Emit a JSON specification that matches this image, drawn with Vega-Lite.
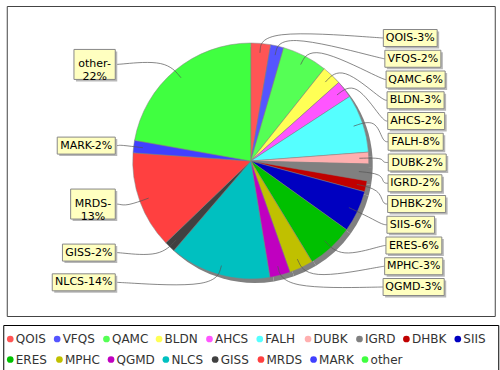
{
  "$schema": "https://vega.github.io/schema/vega-lite/v6.json",
  "background": "white",
  "padding": {"left": 2, "top": 5, "right": 3, "bottom": 3},
  "datasets": {
    "slices": [
      {"cat": "QOIS", "pct": 2.7, "label": "QOIS-3%"},
      {"cat": "VFQS", "pct": 1.8, "label": "VFQS-2%"},
      {"cat": "QAMC", "pct": 6.2, "label": "QAMC-6%"},
      {"cat": "BLDN", "pct": 2.7, "label": "BLDN-3%"},
      {"cat": "AHCS", "pct": 2.4, "label": "AHCS-2%"},
      {"cat": "FALH", "pct": 8.0, "label": "FALH-8%"},
      {"cat": "DUBK", "pct": 1.6, "label": "DUBK-2%"},
      {"cat": "IGRD", "pct": 2.3, "label": "IGRD-2%"},
      {"cat": "DHBK", "pct": 1.5, "label": "DHBK-2%"},
      {"cat": "SIIS", "pct": 5.7, "label": "SIIS-6%"},
      {"cat": "ERES", "pct": 6.4, "label": "ERES-6%"},
      {"cat": "MPHC", "pct": 3.3, "label": "MPHC-3%"},
      {"cat": "QGMD", "pct": 2.8, "label": "QGMD-3%"},
      {"cat": "NLCS", "pct": 13.9, "label": "NLCS-14%"},
      {"cat": "GISS", "pct": 1.5, "label": "GISS-2%"},
      {"cat": "MRDS", "pct": 13.3, "label": "MRDS-\n13%"},
      {"cat": "MARK", "pct": 1.7, "label": "MARK-2%"},
      {"cat": "other", "pct": 22.2, "label": "other-\n22%"}
    ]
  },
  "center": true,
  "spacing": 7,
  "resolve": {"scale": {"x": "independent", "y": "independent"}},
  "vconcat": [
    {
      "width": 488,
      "height": 310,
      "view": {"stroke": "#444444", "strokeWidth": 1, "fill": "white"},
      "data": {"name": "slices"},
      "transform": [
        {"window": [{"op": "row_number", "as": "idx"}]},
        {"window": [{"op": "sum", "field": "pct", "as": "cum"}], "sort": [{"field": "idx"}], "frame": [null, 0]},
        {"calculate": "(datum.cum - datum.pct / 2) / 100 * 2 * PI", "as": "mid"},
        {"calculate": "datum.mid < PI ? 'R' : 'L'", "as": "side"},
        {"window": [{"op": "row_number", "as": "rank"}], "groupby": ["side"], "sort": [{"field": "idx"}]},
        {"calculate": "datum.side == 'R' ? 37 + (datum.rank - 1) * 20.75 : 160 - 126 * cos(datum.mid)", "as": "ly"},
        {"calculate": "indexof(datum.label, '\\n') >= 0 ? 2 : 1", "as": "nl"},
        {"calculate": "datum.nl == 2 ? substring(datum.label, 0, indexof(datum.label, '\\n')) : datum.label", "as": "s1"},
        {"calculate": "0.011 * (670 * length(datum.s1) + 94 * length(replace(datum.s1, regexp('[^DGHNOQU]', 'g'), '')) - 83 * length(replace(datum.s1, regexp('[^FLPT]', 'g'), '')) - 375 * length(replace(datum.s1, regexp('[^I]', 'g'), '')) + 193 * length(replace(datum.s1, regexp('[^M]', 'g'), '')) - 34 * length(replace(datum.s1, regexp('[^0-9]', 'g'), '')) - 309 * length(replace(datum.s1, regexp('[^-]', 'g'), '')) + 280 * length(replace(datum.s1, regexp('[^%]', 'g'), '')) - 137 * length(replace(datum.s1, regexp('[^a-z]', 'g'), '')))", "as": "tw"},
        {"calculate": "datum.tw + (datum.nl == 2 ? 8 : 5)", "as": "bw"},
        {"calculate": "datum.nl == 2 ? 30 : 17", "as": "bh"},
        {"calculate": "datum.side == 'R' ? 387 - 5 * pow((datum.ly - 160) / 124, 2) : 114 - datum.bw", "as": "bx1"},
        {"calculate": "datum.bx1 + datum.bw", "as": "bx2"},
        {"calculate": "datum.ly - datum.bh / 2", "as": "by1"},
        {"calculate": "datum.ly + datum.bh / 2", "as": "by2"},
        {"calculate": "(datum.bx1 + datum.bx2) / 2", "as": "tx"}
      ],
      "layer": [
        {
          "mark": {"type": "arc", "outerRadius": 118, "fill": "#808080", "stroke": null, "xOffset": 4, "yOffset": 4},
          "encoding": {
            "theta": {"field": "pct", "type": "quantitative", "stack": true},
            "order": {"field": "idx", "type": "quantitative"}
          }
        },
        {
          "mark": {"type": "arc", "outerRadius": 118, "stroke": "#808080", "strokeWidth": 0.5},
          "encoding": {
            "theta": {"field": "pct", "type": "quantitative", "stack": true},
            "order": {"field": "idx", "type": "quantitative"},
            "color": {
              "field": "cat", "type": "nominal", "legend": null,
              "scale": {
                "domain": ["QOIS","VFQS","QAMC","BLDN","AHCS","FALH","DUBK","IGRD","DHBK","SIIS","ERES","MPHC","QGMD","NLCS","GISS","MRDS","MARK","other"],
                "range": ["#FF5555","#5555FF","#55FF55","#FFFF55","#FF55FF","#55FFFF","#FFAFAF","#808080","#C00000","#0000C0","#00C000","#C0C000","#C000C0","#00C0C0","#404040","#FF4040","#4040FF","#40FF40"]
              }
            }
          }
        },
        {
          "transform": [
            {"calculate": "datum.side == 'R' ? [datum.bx1, 381.5, 249.5 + 132 * sin(datum.mid), 249.5 + 108.6 * sin(datum.mid)] : [datum.bx2, 117.5, 249.5 + 132 * sin(datum.mid), 249.5 + 108.6 * sin(datum.mid)]", "as": "px"},
            {"calculate": "[datum.ly, datum.ly, 160 - 132 * cos(datum.mid), 160 - 108.6 * cos(datum.mid)]", "as": "py"},
            {"calculate": "[0, 1, 2, 3]", "as": "pi"},
            {"flatten": ["px", "py", "pi"]}
          ],
          "mark": {"type": "line", "interpolate": "basis", "stroke": "#555555", "strokeWidth": 0.7},
          "encoding": {
            "x": {"field": "px", "type": "quantitative", "axis": null, "scale": {"domain": [5.5, 493.5], "nice": false, "zero": false}},
            "y": {"field": "py", "type": "quantitative", "axis": null, "scale": {"domain": [5, 315], "reverse": true, "nice": false, "zero": false}},
            "detail": {"field": "cat", "type": "nominal"},
            "order": {"field": "pi", "type": "quantitative"}
          }
        },
        {
          "mark": {"type": "rect", "fill": "#B8B8B8", "xOffset": 2, "x2Offset": 2, "yOffset": 2, "y2Offset": 2},
          "encoding": {
            "x": {"field": "bx1", "type": "quantitative", "axis": null},
            "x2": {"field": "bx2"},
            "y": {"field": "by1", "type": "quantitative", "axis": null},
            "y2": {"field": "by2"}
          }
        },
        {
          "mark": {"type": "rect", "fill": "#FFFFC0", "stroke": "#888888", "strokeWidth": 1},
          "encoding": {
            "x": {"field": "bx1", "type": "quantitative", "axis": null},
            "x2": {"field": "bx2"},
            "y": {"field": "by1", "type": "quantitative", "axis": null},
            "y2": {"field": "by2"}
          }
        },
        {
          "mark": {"type": "text", "font": "DejaVu Sans", "fontSize": 11, "align": "center", "baseline": "middle", "lineBreak": "\n", "lineHeight": 13, "color": "#000000"},
          "encoding": {
            "x": {"field": "tx", "type": "quantitative", "axis": null},
            "y": {"field": "ly", "type": "quantitative", "axis": null},
            "text": {"field": "label", "type": "nominal"}
          }
        }
      ]
    },
    {
      "width": 495,
      "height": 45,
      "view": {"stroke": "#000000", "strokeWidth": 1, "fill": "white"},
      "data": {"name": "slices"},
      "transform": [
        {"window": [{"op": "row_number", "as": "idx"}]},
        {"calculate": "datum.idx <= 10 ? 0 : 1", "as": "row"},
        {"calculate": "0.012 * (670 * length(datum.cat) + 94 * length(replace(datum.cat, regexp('[^DGHNOQU]', 'g'), '')) - 83 * length(replace(datum.cat, regexp('[^FLPT]', 'g'), '')) - 375 * length(replace(datum.cat, regexp('[^I]', 'g'), '')) + 193 * length(replace(datum.cat, regexp('[^M]', 'g'), '')) - 137 * length(replace(datum.cat, regexp('[^a-z]', 'g'), '')))", "as": "lw"},
        {"calculate": "datum.lw + 17", "as": "adv"},
        {"window": [{"op": "sum", "field": "adv", "as": "cadv"}], "groupby": ["row"], "sort": [{"field": "idx"}], "frame": [null, 0]},
        {"calculate": "5.5 + datum.cadv - datum.adv", "as": "x0"},
        {"calculate": "datum.x0 + 3.5", "as": "sx"},
        {"calculate": "datum.x0 + 9", "as": "lx"},
        {"calculate": "datum.row == 0 ? 336 : 356.5", "as": "lyy"}
      ],
      "layer": [
        {
          "mark": {"type": "point", "shape": "circle", "filled": true, "size": 45, "opacity": 1},
          "encoding": {
            "x": {"field": "sx", "type": "quantitative", "axis": null, "scale": {"domain": [2, 497], "nice": false, "zero": false}},
            "y": {"field": "lyy", "type": "quantitative", "axis": null, "scale": {"domain": [322, 367], "reverse": true, "nice": false, "zero": false}},
            "color": {
              "field": "cat", "type": "nominal", "legend": null,
              "scale": {
                "domain": ["QOIS","VFQS","QAMC","BLDN","AHCS","FALH","DUBK","IGRD","DHBK","SIIS","ERES","MPHC","QGMD","NLCS","GISS","MRDS","MARK","other"],
                "range": ["#FF5555","#5555FF","#55FF55","#FFFF55","#FF55FF","#55FFFF","#FFAFAF","#808080","#C00000","#0000C0","#00C000","#C0C000","#C000C0","#00C0C0","#404040","#FF4040","#4040FF","#40FF40"]
              }
            }
          }
        },
        {
          "mark": {"type": "text", "font": "DejaVu Sans", "fontSize": 12, "align": "left", "baseline": "middle", "color": "#333333"},
          "encoding": {
            "x": {"field": "lx", "type": "quantitative", "axis": null},
            "y": {"field": "lyy", "type": "quantitative", "axis": null},
            "text": {"field": "cat", "type": "nominal"}
          }
        }
      ]
    }
  ]
}
